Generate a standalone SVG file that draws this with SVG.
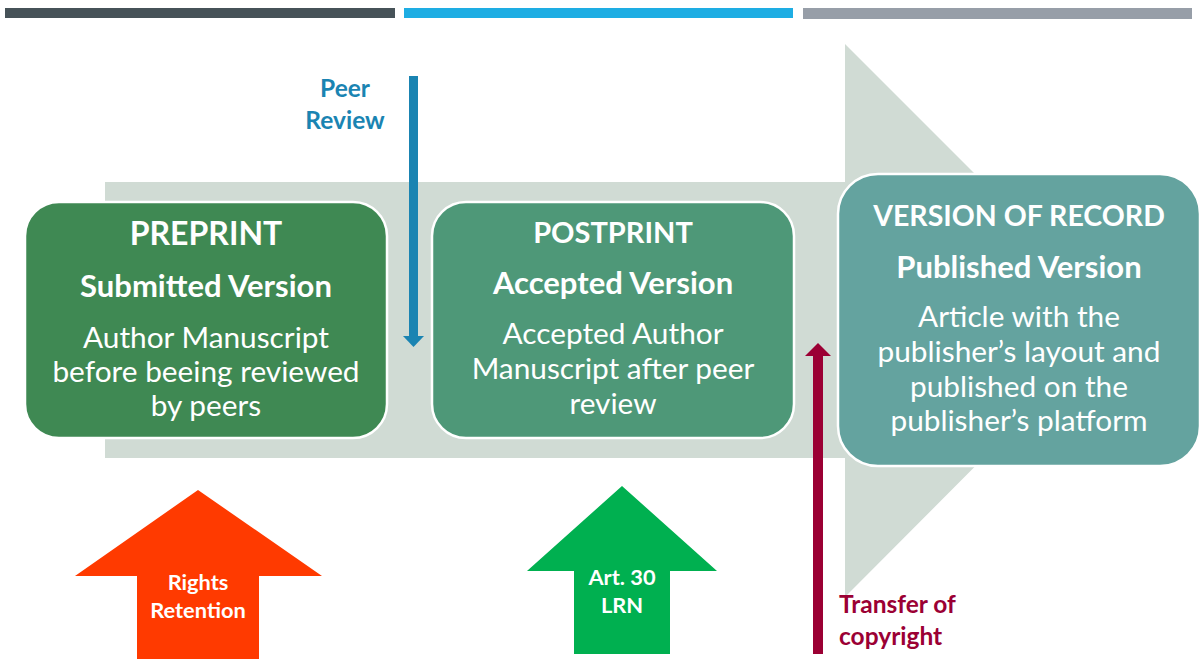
<svg xmlns="http://www.w3.org/2000/svg" width="1202" height="659" viewBox="0 0 1202 659">
  <style>
    text { font-family: Lato, "Open Sans", "Liberation Sans", sans-serif; text-anchor: middle; }
    .w { fill: #ffffff; }
    .t { font-weight: 700; font-size: 32px; }
    .s { font-weight: 700; font-size: 31px; }
    .b { font-weight: 400; font-size: 29.8px; }
    .lbl { font-weight: 700; font-size: 24.5px; }
    .in { font-weight: 700; font-size: 21.8px; }
    .box { stroke: #ffffff; stroke-width: 2.5; }
  </style>

  <!-- header bars -->
  <rect x="5" y="8" width="390" height="10" fill="#465258"/>
  <rect x="404" y="8" width="389" height="10" fill="#1EADE3"/>
  <rect x="803" y="8" width="389" height="11" fill="#979EA8"/>

  <!-- big background arrow -->
  <polygon points="105,182 845,182 845,44 1121,320 845,597 845,458 105,458" fill="#D0DBD4"/>

  <!-- connectors -->
  <g id="connectors">
    <g id="peer-review">
      <rect x="409" y="76" width="9" height="262" fill="#1A84B2"/>
      <polygon points="403,336 424,336 413.5,347" fill="#1A84B2"/>
    </g>
    <g id="transfer-copyright">
      <rect x="813" y="354" width="10" height="300" fill="#9B0034"/>
      <polygon points="805,356 831,356 818,343" fill="#9B0034"/>
    </g>
  </g>

  <g id="preprint">
    <rect class="box" x="25" y="202" width="362" height="236" rx="34" fill="#3F8953"/>
    <text class="w t" x="206" y="245">PREPRINT</text>
    <text class="w s" x="206" y="297">Submitted Version</text>
    <text class="w b" x="206" y="348">Author Manuscript</text>
    <text class="w b" x="206" y="382">before beeing reviewed</text>
    <text class="w b" x="206" y="416">by peers</text>
  </g>

  <g id="postprint">
    <rect class="box" x="432" y="202" width="362" height="236" rx="34" fill="#4E9878"/>
    <text class="w t" x="613" y="243" style="font-size:29px">POSTPRINT</text>
    <text class="w s" x="613" y="294">Accepted Version</text>
    <text class="w b" x="613" y="344">Accepted Author</text>
    <text class="w b" x="613" y="379">Manuscript after peer</text>
    <text class="w b" x="613" y="414">review</text>
  </g>

  <g id="version-of-record">
    <rect class="box" x="838" y="174" width="362" height="292" rx="40" fill="#64A39F"/>
    <text class="w t" x="1019" y="226" style="font-size:28.5px">VERSION OF RECORD</text>
    <text class="w s" x="1019" y="278">Published Version</text>
    <text class="w b" x="1019" y="327">Article with the</text>
    <text class="w b" x="1019" y="362">publisher’s layout and</text>
    <text class="w b" x="1019" y="397">published on the</text>
    <text class="w b" x="1019" y="431">publisher’s platform</text>
  </g>

  <g id="peer-review-label">
    <text class="lbl" x="345" y="97" fill="#1A84B2">Peer</text>
    <text class="lbl" x="345" y="129" fill="#1A84B2">Review</text>
  </g>

  <g id="transfer-label">
    <text class="lbl" x="839" y="613" fill="#9B0034" style="text-anchor:start">Transfer of</text>
    <text class="lbl" x="839" y="645" fill="#9B0034" style="text-anchor:start">copyright</text>
  </g>

  <g id="rights-retention">
    <polygon points="198,490 322,576 259,576 259,659 137,659 137,576 75,576" fill="#FF3A00"/>
    <text class="w in" x="198" y="590">Rights</text>
    <text class="w in" x="198" y="618">Retention</text>
  </g>

  <g id="art30-lrn">
    <polygon points="622,486 717,571 670,571 670,654 574,654 574,571 527,571" fill="#00B050"/>
    <text class="w in" x="622" y="585">Art. 30</text>
    <text class="w in" x="622" y="613">LRN</text>
  </g>
</svg>
